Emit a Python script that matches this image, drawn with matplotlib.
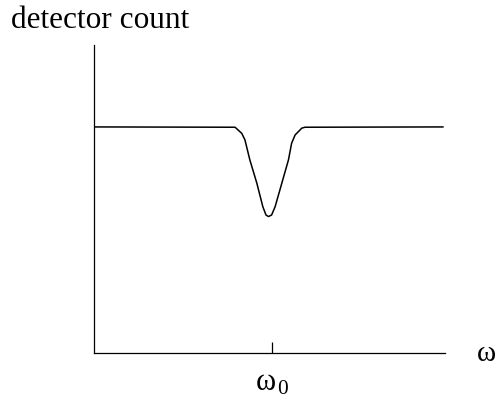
import numpy as np
import matplotlib.pyplot as plt

plt.rcParams['font.family'] = ['Liberation Serif', 'DejaVu Serif']
plt.rcParams['mathtext.fontset'] = 'custom'
plt.rcParams['mathtext.rm'] = 'Liberation Serif'
plt.rcParams['mathtext.it'] = 'Liberation Serif'
plt.rcParams['mathtext.bf'] = 'Liberation Serif:bold'

# absorption dip in the detector count around the resonance frequency
omega = [0.0, 4.02, 4.21, 4.30, 4.44, 4.64, 4.81, 4.90, 4.97, 5.06, 5.16,
         5.35, 5.54, 5.63, 5.73, 5.92, 6.01, 9.94]
count = [7.34, 7.33, 7.13, 6.92, 6.27, 5.51, 4.75, 4.48, 4.43, 4.48, 4.75,
         5.51, 6.27, 6.81, 7.08, 7.30, 7.33, 7.34]
omega0 = 5.07

fig = plt.figure(figsize=(4.97, 4.01), dpi=100)
ax = fig.add_axes([94 / 497, 48 / 401, 351 / 497, 308 / 401])

ax.plot(omega, count, color='black', lw=1.1)

ax.set_xlim(0, 10)
ax.set_ylim(0, 10)
for s in ['top', 'right']:
    ax.spines[s].set_visible(False)
for s in ['left', 'bottom']:
    ax.spines[s].set_linewidth(0.9)

ax.set_xticks([omega0])
ax.set_xticklabels([r'$\omega_{\,0}$'])
ax.set_yticks([])
ax.tick_params(axis='x', direction='in', length=8, width=0.9, labelsize=22, pad=11)

fig.text(11 / 497, 1 - 28 / 401, 'detector count', fontsize=22.5, ha='left')
fig.text(476 / 497, 1 - 361 / 401, r'$\omega$', fontsize=21, ha='left')

fig.savefig('out.png', dpi=100)
